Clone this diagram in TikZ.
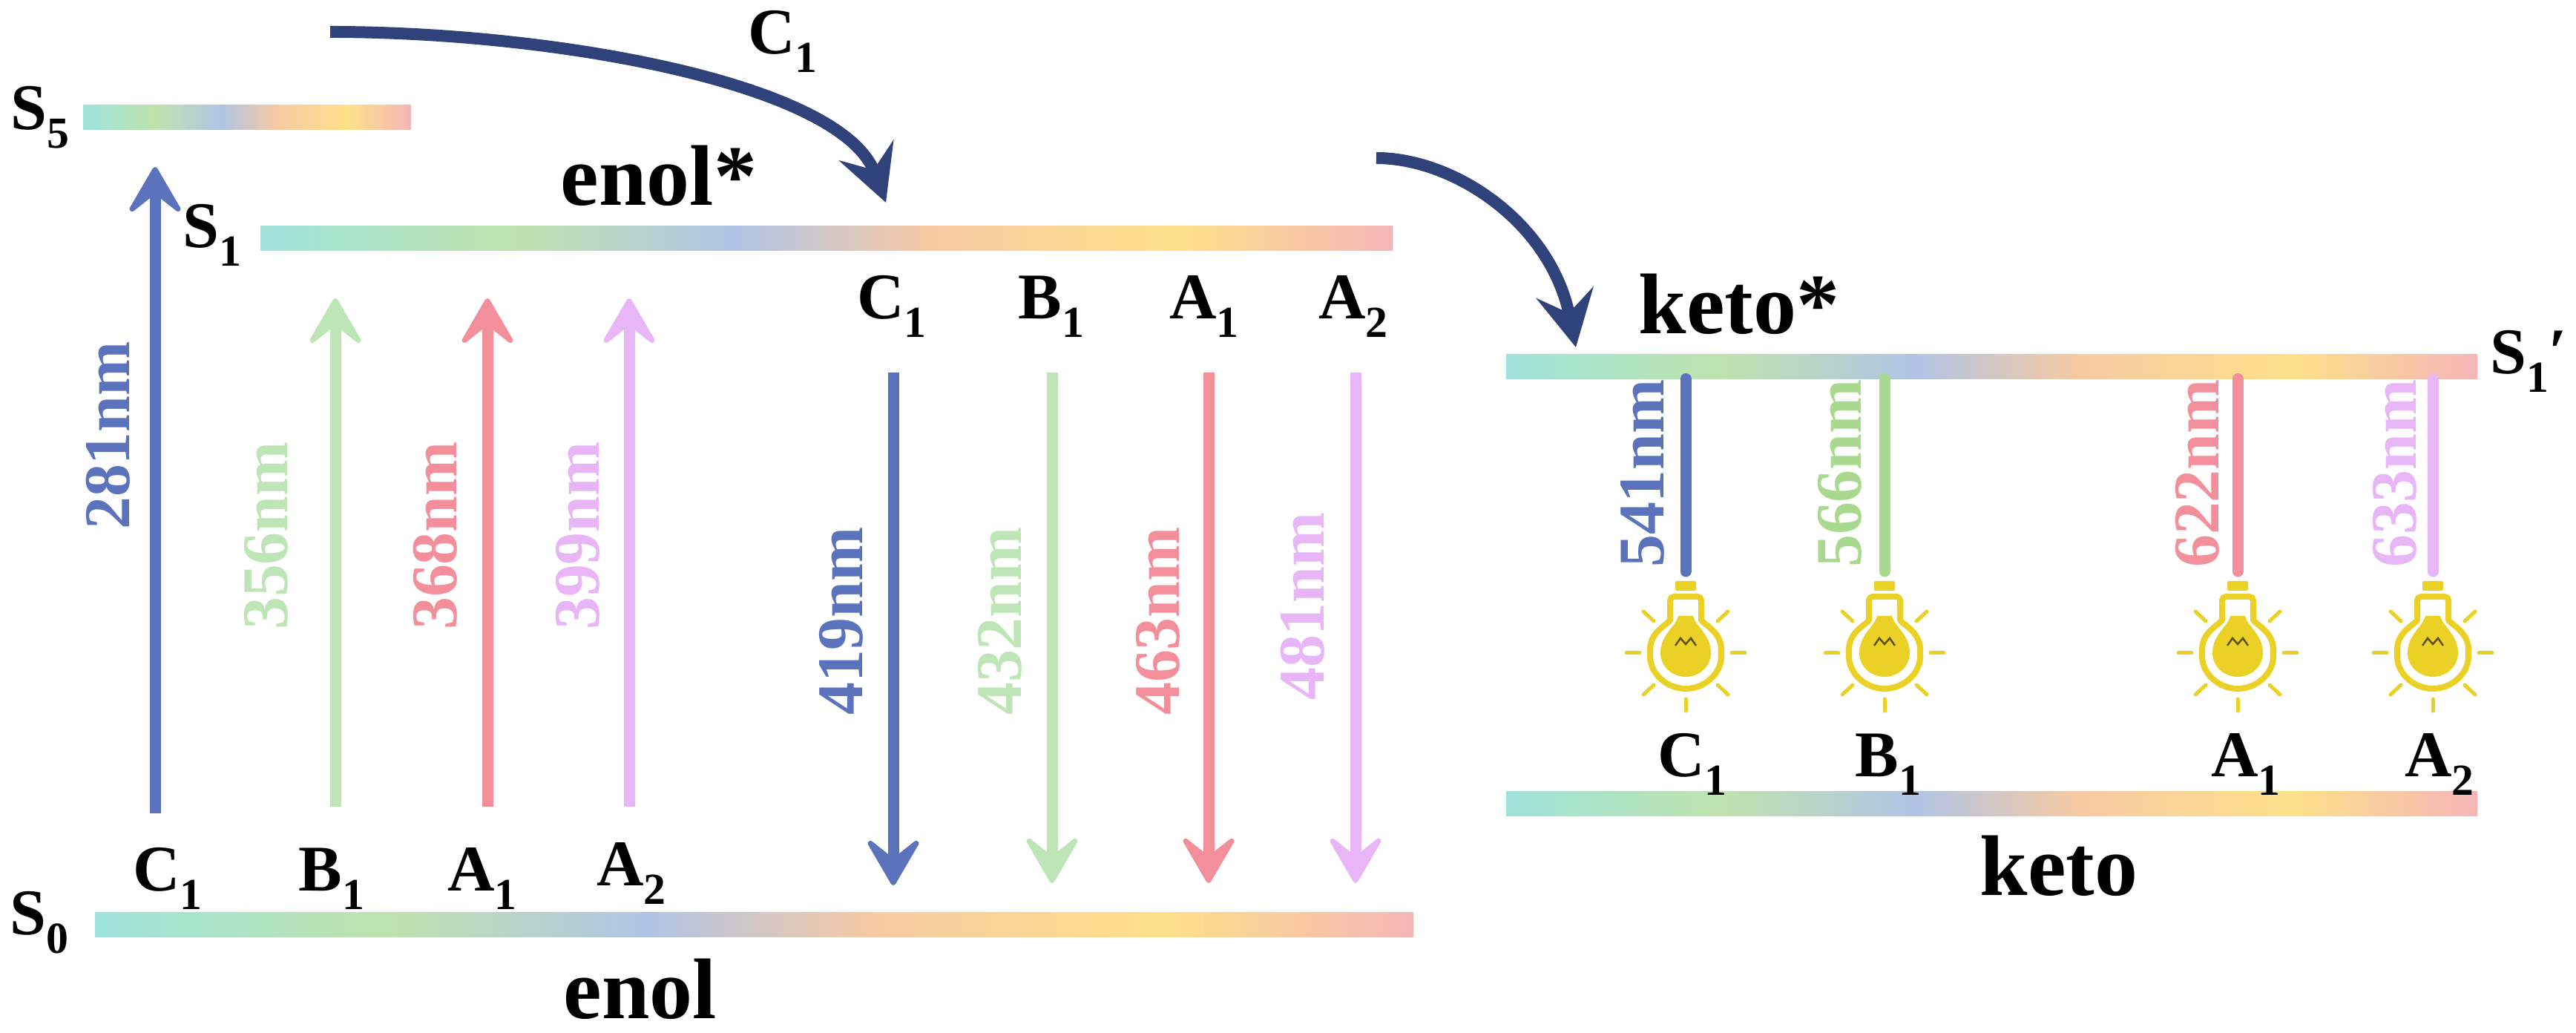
\documentclass[tikz,border=0pt]{standalone}
\usepackage{fontspec}
\setmainfont{Liberation Serif}
\usepackage{xcolor}
\usepackage{tikz}
\usetikzlibrary{arrows.meta}
\definecolor{bluec}{HTML}{5B73BC}
\definecolor{greenb}{HTML}{BDE5B5}
\definecolor{reda}{HTML}{F28F9B}
\definecolor{purplea}{HTML}{E8B6F6}
\definecolor{navyhop}{HTML}{2F4279}
\definecolor{lampyellow}{HTML}{EBD026}
\definecolor{ketogreen}{HTML}{A8D98F}
\newcommand{\lowsub}[1]{\raisebox{-0.28em}{\fontsize{17}{20}\selectfont #1}}
\pgfdeclarehorizontalshading{levelshade}{100bp}{rgb(0bp)=(0.62,0.89,0.86); rgb(25bp)=(0.62,0.89,0.86); rgb(36bp)=(0.75,0.89,0.68); rgb(46bp)=(0.69,0.77,0.90); rgb(54.5bp)=(0.97,0.79,0.64); rgb(65.5bp)=(0.99,0.88,0.54); rgb(75bp)=(0.96,0.71,0.72); rgb(100bp)=(0.96,0.71,0.72)}
\begin{document}
\begin{tikzpicture}
	\useasboundingbox (0,0) rectangle (34.72,13.92);
	\tikzstyle{level}=[shading=levelshade,minimum height=0.33cm,inner sep=0pt,outer sep=0pt]
	\tikzstyle{tag}=[font=\fontsize{25}{30}\selectfont\bfseries,inner sep=0pt]
	\tikzstyle{state}=[font=\fontsize{33}{40}\selectfont\bfseries,inner sep=0pt]
	\tikzstyle{wave}=[font=\fontsize{25}{30}\selectfont\bfseries,inner sep=0pt,rotate=90]
	\tikzstyle{shot}=[line width=0.15cm,-{Stealth[length=0.74cm,width=0.86cm,inset=0.34cm,round,line width=0.07cm]}]
	\tikzstyle{drop}=[line width=0.15cm,line cap=round]
	\tikzstyle{hop}=[navyhop,line width=0.16cm,-{Stealth[length=0.75cm,width=0.78cm,inset=0.28cm]}]
	\tikzset{lamp/.pic={
		\draw[lampyellow,line width=0.08cm,rounded corners=0.05cm,fill=white] (-0.21,0.76) -- (0.21,0.76) -- (0.21,0.5)
			.. controls (0.21,0.4) and (0.48,0.3) .. (0.48,0) arc (0:-180:0.48)
			.. controls (-0.48,0.3) and (-0.21,0.4) .. (-0.21,0.5) -- cycle;
		\fill[lampyellow] (-0.1,0.5) -- (0.1,0.5) .. controls (0.13,0.36) and (0.34,0.25) .. (0.34,0) arc (0:-180:0.34 and 0.32)
			.. controls (-0.34,0.25) and (-0.13,0.36) .. (-0.1,0.5) -- cycle;
		\fill[lampyellow,rounded corners=0.02cm] (-0.14,0.84) rectangle (0.14,0.97);
		\draw[black!60!lampyellow,line width=0.025cm] (-0.14,0.1) -- (-0.07,0.2) -- (0,0.12) -- (0.07,0.2) -- (0.14,0.1);
		\draw[lampyellow,line width=0.05cm,line cap=round] (-0.8,0) -- (-0.62,0);
		\draw[lampyellow,line width=0.05cm,line cap=round] (0.62,0) -- (0.8,0);
		\draw[lampyellow,line width=0.05cm,line cap=round] (0,-0.62) -- (0,-0.78);
		\draw[lampyellow,line width=0.05cm,line cap=round] (-0.57,0.56) -- (-0.43,0.43);
		\draw[lampyellow,line width=0.05cm,line cap=round] (0.57,0.56) -- (0.43,0.43);
		\draw[lampyellow,line width=0.05cm,line cap=round] (-0.57,-0.56) -- (-0.43,-0.43);
		\draw[lampyellow,line width=0.05cm,line cap=round] (0.57,-0.56) -- (0.43,-0.43);
	}}
	% levels
	\node[level,minimum width=4.42cm](sfive) at (3.33,12.34){};
	\node[level,minimum width=15.26cm](sone) at (11.14,10.71){};
	\node[level,minimum width=17.77cm](szero) at (10.165,1.46){};
	\node[level,minimum width=13.09cm](ketostar) at (26.845,8.98){};
	\node[level,minimum width=13.09cm](ketoground) at (26.845,3.09){};
	% level names
	\node[tag](nfive) at (0.54,12.34){S\lowsub{5}};
	\node[tag](none) at (2.86,10.75){S\lowsub{1}};
	\node[tag](nzero) at (0.53,1.49){S\lowsub{0}};
	\node[tag](nprime) at (34.08,9.05){S\lowsub{1}′};
	\node[state](enolstar) at (8.88,11.55){enol*};
	\node[state](enol) at (8.63,0.59){enol};
	\node[state](ketos) at (23.44,9.82){keto*};
	\node[state](keto) at (27.75,2.25){keto};
	\node[tag](chop) at (10.55,13.36){C\lowsub{1}};
	% absorption
	\coordinate (ua) at (2.09,2.96);
	\coordinate (uaend) at (2.09,11.67);
	\coordinate (ub) at (4.52,3.05);
	\coordinate (ubend) at (4.52,9.9);
	\coordinate (uc) at (6.57,3.05);
	\coordinate (ucend) at (6.57,9.9);
	\coordinate (ud) at (8.48,3.05);
	\coordinate (udend) at (8.48,9.9);
	\draw[shot,bluec] (ua) -- (uaend);
	\draw[shot,greenb] (ub) -- (ubend);
	\draw[shot,reda] (uc) -- (ucend);
	\draw[shot,purplea] (ud) -- (udend);
	\node[tag](uca) at (2.26,2.08){C\lowsub{1}};
	\node[tag](ucb) at (4.47,2.08){B\lowsub{1}};
	\node[tag](ucc) at (6.5,2.08){A\lowsub{1}};
	\node[tag](ucd) at (8.51,2.15){A\lowsub{2}};
	\node[wave,bluec](wa) at (1.46,8.05){281nm};
	\node[wave,greenb](wb) at (3.59,6.7){356nm};
	\node[wave,reda](wc) at (5.87,6.7){368nm};
	\node[wave,purplea](wd) at (7.79,6.7){399nm};
	% emission from enol*
	\coordinate (da) at (12.04,8.9);
	\coordinate (daend) at (12.04,1.99);
	\coordinate (db) at (14.18,8.9);
	\coordinate (dbend) at (14.18,2.02);
	\coordinate (dc) at (16.29,8.9);
	\coordinate (dcend) at (16.29,2.02);
	\coordinate (dd) at (18.27,8.9);
	\coordinate (ddend) at (18.27,2.02);
	\draw[shot,bluec] (da) -- (daend);
	\draw[shot,greenb] (db) -- (dbend);
	\draw[shot,reda] (dc) -- (dcend);
	\draw[shot,purplea] (dd) -- (ddend);
	\node[tag](dca) at (12.02,9.79){C\lowsub{1}};
	\node[tag](dcb) at (14.17,9.79){B\lowsub{1}};
	\node[tag](dcc) at (16.23,9.79){A\lowsub{1}};
	\node[tag](dcd) at (18.24,9.79){A\lowsub{2}};
	\node[wave,bluec](we) at (11.34,5.55){419nm};
	\node[wave,greenb](wf) at (13.48,5.55){432nm};
	\node[wave,reda](wg) at (15.61,5.55){463nm};
	\node[wave,purplea](wh) at (17.56,5.75){481nm};
	% proton transfer
	\coordinate (hopa) at (4.45,13.49);
	\coordinate (hopaend) at (11.94,11.19);
	\coordinate (hopb) at (18.55,11.79);
	\coordinate (hopbend) at (21.24,9.24);
	\draw[hop] (hopa) .. controls (7.5,13.49) and (11.34,12.79) .. (hopaend);
	\draw[hop] (hopb) .. controls (19.6,11.79) and (20.9,10.92) .. (hopbend);
	% emission from keto*
	\coordinate (lampa) at (22.72,5.12);
	\coordinate (lampb) at (25.4,5.12);
	\coordinate (lampc) at (30.16,5.12);
	\coordinate (lampd) at (32.79,5.12);
	\pic at (lampa) {lamp};
	\pic at (lampb) {lamp};
	\pic at (lampc) {lamp};
	\pic at (lampd) {lamp};
	\draw[drop,bluec] (lampa |- ketostar.south) -- ([yshift=1.1cm]lampa);
	\draw[drop,ketogreen] (lampb |- ketostar.south) -- ([yshift=1.1cm]lampb);
	\draw[drop,reda] (lampc |- ketostar.south) -- ([yshift=1.1cm]lampc);
	\draw[drop,purplea] (lampd |- ketostar.south) -- ([yshift=1.1cm]lampd);
	\node[tag](lca) at (22.81,3.62){C\lowsub{1}};
	\node[tag](lcb) at (25.45,3.62){B\lowsub{1}};
	\node[tag](lcc) at (30.27,3.62){A\lowsub{1}};
	\node[tag](lcd) at (32.88,3.62){A\lowsub{2}};
	\node[wave,bluec](wi) at (22.14,7.54){541nm};
	\node[wave,ketogreen](wj) at (24.8,7.54){566nm};
	\node[wave,reda](wk) at (29.62,7.54){622nm};
	\node[wave,purplea](wl) at (32.28,7.54){633nm};
\end{tikzpicture}
\end{document}
